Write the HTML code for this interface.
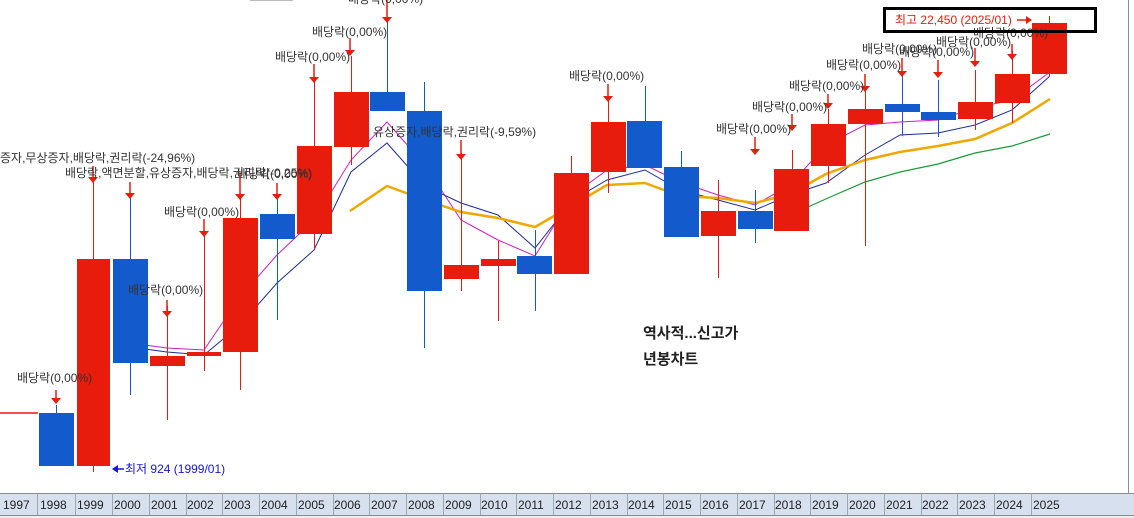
<!DOCTYPE html>
<html><head><meta charset="utf-8"><style>
html,body{margin:0;padding:0;background:#fff;}
svg{display:block;font-family:"Liberation Sans","Noto Sans CJK KR",sans-serif;}
</style></head><body>
<svg width="1134" height="518" viewBox="0 0 1134 518" xmlns="http://www.w3.org/2000/svg">
<rect width="1134" height="518" fill="#fff"/>
<line x1="250" y1="0.5" x2="293" y2="0.5" stroke="#bbb"/>
<line x1="1128.5" y1="0" x2="1128.5" y2="493" stroke="#7a8fb0"/>
<!-- moving averages -->
<polyline fill="none" stroke="#d020c0" stroke-width="1" points="130,343 167,348 204,350 240,297 277,255 314,220 351,160 387,122 425,165 461,220 498,240 535,256 573,195 607,170 645,165 680,182 718,195 755,205 790,185 826,145 865,125 900,122 938,120 975,108 1012,100 1050,72"/>
<polyline fill="none" stroke="#1a2ea0" stroke-width="1" points="130,347 167,352 204,355 240,325 277,283 314,250 351,172 387,143 425,186 461,203 498,215 535,248 573,200 607,180 645,170 680,190 718,200 755,210 790,195 826,183 865,155 900,135 938,133 975,125 1012,110 1050,76"/>
<polyline fill="none" stroke="#f0a800" stroke-width="2.5" points="350,211 387,186 425,200 461,212 498,218 535,227 573,205 607,185 645,183 680,196 718,198 755,203 790,194 826,174 865,160 900,152 938,146 975,139 1012,123 1050,99"/>
<polyline fill="none" stroke="#1a9a3a" stroke-width="1.2" points="808,207 828,198 865,182 900,172 938,164 975,153 1012,146 1050,134"/>
<!-- candles -->
<g stroke-width="1">
<line x1="0" y1="413" x2="38" y2="413" stroke="#e81c0c" stroke-width="1.5"/>
<line x1="56.5" y1="405" x2="56.5" y2="466" stroke="#135bcc"/><rect x="39" y="413" width="35" height="53" fill="#135bcc"/>
<line x1="93.5" y1="180" x2="93.5" y2="472" stroke="#e81c0c"/><rect x="77" y="259" width="33" height="207" fill="#e81c0c"/>
<line x1="130.5" y1="195" x2="130.5" y2="395" stroke="#135bcc"/><rect x="113" y="259" width="35" height="104" fill="#135bcc"/>
<line x1="167.5" y1="306" x2="167.5" y2="420" stroke="#e81c0c"/><rect x="150" y="356" width="35" height="10" fill="#e81c0c"/>
<line x1="204.5" y1="236" x2="204.5" y2="371" stroke="#e81c0c"/><rect x="187" y="352" width="34" height="4" fill="#e81c0c"/>
<line x1="240.5" y1="196" x2="240.5" y2="390" stroke="#e81c0c"/><rect x="223" y="218" width="35" height="134" fill="#e81c0c"/>
<line x1="277.5" y1="199" x2="277.5" y2="320" stroke="#135bcc"/><rect x="260" y="214" width="35" height="25" fill="#135bcc"/>
<line x1="314.5" y1="82" x2="314.5" y2="250" stroke="#e81c0c"/><rect x="297" y="146" width="35" height="88" fill="#e81c0c"/>
<line x1="351.5" y1="56" x2="351.5" y2="165" stroke="#e81c0c"/><rect x="334" y="92" width="35" height="55" fill="#e81c0c"/>
<line x1="387.5" y1="20" x2="387.5" y2="111" stroke="#135bcc"/><rect x="370" y="92" width="35" height="19" fill="#135bcc"/>
<line x1="424.5" y1="82" x2="424.5" y2="348" stroke="#135bcc"/><rect x="407" y="111" width="35" height="180" fill="#135bcc"/>
<line x1="461.5" y1="153" x2="461.5" y2="291" stroke="#e81c0c"/><rect x="444" y="265" width="35" height="14" fill="#e81c0c"/>
<line x1="498.5" y1="241" x2="498.5" y2="321" stroke="#e81c0c"/><rect x="481" y="259" width="35" height="7" fill="#e81c0c"/>
<line x1="535.5" y1="230" x2="535.5" y2="311" stroke="#135bcc"/><rect x="517" y="256" width="35" height="18" fill="#135bcc"/>
<line x1="571.5" y1="156" x2="571.5" y2="274" stroke="#e81c0c"/><rect x="554" y="173" width="35" height="101" fill="#e81c0c"/>
<line x1="608.5" y1="99" x2="608.5" y2="193" stroke="#e81c0c"/><rect x="591" y="122" width="35" height="50" fill="#e81c0c"/>
<line x1="645.5" y1="86" x2="645.5" y2="168" stroke="#135bcc"/><rect x="627" y="121" width="35" height="47" fill="#135bcc"/>
<line x1="681.5" y1="151" x2="681.5" y2="237" stroke="#135bcc"/><rect x="664" y="167" width="35" height="70" fill="#135bcc"/>
<line x1="718.5" y1="180" x2="718.5" y2="278" stroke="#e81c0c"/><rect x="701" y="211" width="35" height="25" fill="#e81c0c"/>
<line x1="755.5" y1="190" x2="755.5" y2="243" stroke="#135bcc"/><rect x="738" y="211" width="35" height="18" fill="#135bcc"/>
<line x1="792.5" y1="150" x2="792.5" y2="231" stroke="#e81c0c"/><rect x="774" y="169" width="35" height="62" fill="#e81c0c"/>
<line x1="828.5" y1="109" x2="828.5" y2="183" stroke="#e81c0c"/><rect x="811" y="124" width="35" height="42" fill="#e81c0c"/>
<line x1="865.5" y1="90" x2="865.5" y2="246" stroke="#e81c0c"/><rect x="848" y="109" width="35" height="15" fill="#e81c0c"/>
<line x1="902.5" y1="76" x2="902.5" y2="136" stroke="#135bcc"/><rect x="885" y="104" width="35" height="8" fill="#135bcc"/>
<line x1="938.5" y1="80" x2="938.5" y2="137" stroke="#135bcc"/><rect x="921" y="112" width="35" height="8" fill="#135bcc"/>
<line x1="975.5" y1="70" x2="975.5" y2="130" stroke="#e81c0c"/><rect x="958" y="102" width="35" height="17" fill="#e81c0c"/>
<line x1="1012.5" y1="51" x2="1012.5" y2="123" stroke="#e81c0c"/><rect x="995" y="74" width="35" height="29" fill="#e81c0c"/>
<line x1="1049.5" y1="16" x2="1049.5" y2="77" stroke="#e81c0c"/><rect x="1032" y="23" width="35" height="51" fill="#e81c0c"/>
</g>
<!-- arrows -->
<g fill="#e81c0c" stroke="#e81c0c" stroke-width="1.5">
<line x1="56" y1="390" x2="56" y2="400"/><polygon points="51,398 61,398 56,404" stroke="none"/>
<line x1="93" y1="166" x2="93" y2="180"/><polygon points="88,177 98,177 93,183" stroke="none"/>
<line x1="130" y1="182" x2="130" y2="196"/><polygon points="125,193 135,193 130,199" stroke="none"/>
<line x1="167" y1="300" x2="167" y2="314"/><polygon points="162,311 172,311 167,317" stroke="none"/>
<line x1="204" y1="219" x2="204" y2="234"/><polygon points="199,231 209,231 204,237" stroke="none"/>
<line x1="240" y1="173" x2="240" y2="197"/><polygon points="235,194 245,194 240,200" stroke="none"/>
<line x1="277" y1="183" x2="277" y2="197"/><polygon points="272,194 282,194 277,200" stroke="none"/>
<line x1="314" y1="64" x2="314" y2="80"/><polygon points="309,77 319,77 314,83" stroke="none"/>
<line x1="350" y1="38" x2="350" y2="53"/><polygon points="345,50 355,50 350,56" stroke="none"/>
<line x1="387" y1="0" x2="387" y2="20"/><polygon points="382,17 392,17 387,23" stroke="none"/>
<line x1="461" y1="140" x2="461" y2="157"/><polygon points="456,154 466,154 461,160" stroke="none"/>
<line x1="608" y1="84" x2="608" y2="99"/><polygon points="603,96 613,96 608,102" stroke="none"/>
<line x1="755" y1="137" x2="755" y2="152"/><polygon points="750,149 760,149 755,155" stroke="none"/>
<line x1="792" y1="114" x2="792" y2="128"/><polygon points="787,125 797,125 792,131" stroke="none"/>
<line x1="828" y1="94" x2="828" y2="106"/><polygon points="823,103 833,103 828,109" stroke="none"/>
<line x1="865" y1="74" x2="865" y2="89"/><polygon points="860,86 870,86 865,92" stroke="none"/>
<line x1="902" y1="58" x2="902" y2="74"/><polygon points="897,71 907,71 902,77" stroke="none"/>
<line x1="938" y1="60" x2="938" y2="75"/><polygon points="933,72 943,72 938,78" stroke="none"/>
<line x1="975" y1="48" x2="975" y2="64"/><polygon points="970,61 980,61 975,67" stroke="none"/>
<line x1="1012" y1="44" x2="1012" y2="57"/><polygon points="1007,54 1017,54 1012,60" stroke="none"/>
</g>
<!-- labels -->
<g font-size="12" fill="#333">
<text x="17" y="382">배당락(0,00%)</text>
<text x="0" y="162">증자,무상증자,배당락,권리락(-24,96%)</text>
<text x="65" y="177">배당락,액면분할,유상증자,배당락,권리락(-0,25%)</text>
<text x="237" y="178">배당락(0,00%)</text>
<text x="164" y="216">배당락(0,00%)</text>
<text x="128" y="294">배당락(0,00%)</text>
<text x="275" y="61">배당락(0,00%)</text>
<text x="312" y="36">배당락(0,00%)</text>
<text x="348" y="3">배당락(0,00%)</text>
<text x="373" y="136">유상증자,배당락,권리락(-9,59%)</text>
<text x="569" y="80">배당락(0,00%)</text>
<text x="716" y="133">배당락(0,00%)</text>
<text x="752" y="111">배당락(0,00%)</text>
<text x="789" y="90">배당락(0,00%)</text>
<text x="826" y="69">배당락(0,00%)</text>
<text x="862" y="53">배당락(0,00%)</text>
<text x="899" y="56">배당락(0,00%)</text>
<text x="936" y="46">배당락(0,00%)</text>
<text x="973" y="37">배당락(0,00%)</text>
</g>
<!-- high box -->
<rect x="884.5" y="8.5" width="211" height="23" fill="none" stroke="#000" stroke-width="3"/>
<text x="895" y="24" font-size="12" fill="#e81c0c">최고 22,450 (2025/01)</text>
<line x1="1017" y1="20" x2="1028" y2="20" stroke="#e81c0c" stroke-width="1.5"/><polygon points="1026,16 1032,20 1026,24" fill="#e81c0c"/>
<!-- low -->
<polygon points="112,469 118,465 118,473" fill="#1414e0"/><line x1="116" y1="469" x2="124" y2="469" stroke="#1414e0" stroke-width="1.5"/>
<text x="125" y="473" font-size="12" fill="#1414e0">최저 924 (1999/01)</text>
<text x="643" y="338" font-size="15" font-weight="bold" fill="#222">역사적...신고가</text>
<text x="643" y="364" font-size="15" font-weight="bold" fill="#222">년봉차트</text>
<!-- x axis -->
<rect x="0" y="493" width="1134" height="23" fill="#d6e0ee"/>
<line x1="0" y1="493.5" x2="1134" y2="493.5" stroke="#8a8a8a"/>
<line x1="0" y1="515.5" x2="1134" y2="515.5" stroke="#8a8a8a"/>
<rect x="0" y="516" width="1134" height="2" fill="#eee"/>
<g stroke="#9aa" stroke-width="1">
<line x1="37.5" y1="493" x2="37.5" y2="515"/><line x1="75.5" y1="493" x2="75.5" y2="515"/><line x1="112.5" y1="493" x2="112.5" y2="515"/><line x1="149.5" y1="493" x2="149.5" y2="515"/><line x1="186.5" y1="493" x2="186.5" y2="515"/><line x1="222.5" y1="493" x2="222.5" y2="515"/><line x1="259.5" y1="493" x2="259.5" y2="515"/><line x1="296.5" y1="493" x2="296.5" y2="515"/><line x1="333.5" y1="493" x2="333.5" y2="515"/><line x1="369.5" y1="493" x2="369.5" y2="515"/><line x1="406.5" y1="493" x2="406.5" y2="515"/><line x1="443.5" y1="493" x2="443.5" y2="515"/><line x1="480.5" y1="493" x2="480.5" y2="515"/><line x1="516.5" y1="493" x2="516.5" y2="515"/><line x1="553.5" y1="493" x2="553.5" y2="515"/><line x1="590.5" y1="493" x2="590.5" y2="515"/><line x1="627.5" y1="493" x2="627.5" y2="515"/><line x1="663.5" y1="493" x2="663.5" y2="515"/><line x1="700.5" y1="493" x2="700.5" y2="515"/><line x1="737.5" y1="493" x2="737.5" y2="515"/><line x1="774.5" y1="493" x2="774.5" y2="515"/><line x1="810.5" y1="493" x2="810.5" y2="515"/><line x1="847.5" y1="493" x2="847.5" y2="515"/><line x1="884.5" y1="493" x2="884.5" y2="515"/><line x1="921.5" y1="493" x2="921.5" y2="515"/><line x1="957.5" y1="493" x2="957.5" y2="515"/><line x1="994.5" y1="493" x2="994.5" y2="515"/><line x1="1031.5" y1="493" x2="1031.5" y2="515"/>
</g>
<g font-size="12" fill="#222">
<text x="3" y="509">1997</text><text x="40" y="509">1998</text><text x="77" y="509">1999</text><text x="114" y="509">2000</text><text x="151" y="509">2001</text><text x="187" y="509">2002</text><text x="224" y="509">2003</text><text x="261" y="509">2004</text><text x="298" y="509">2005</text><text x="334" y="509">2006</text><text x="371" y="509">2007</text><text x="408" y="509">2008</text><text x="445" y="509">2009</text><text x="481" y="509">2010</text><text x="518" y="509">2011</text><text x="555" y="509">2012</text><text x="592" y="509">2013</text><text x="628" y="509">2014</text><text x="665" y="509">2015</text><text x="702" y="509">2016</text><text x="739" y="509">2017</text><text x="775" y="509">2018</text><text x="812" y="509">2019</text><text x="849" y="509">2020</text><text x="886" y="509">2021</text><text x="922" y="509">2022</text><text x="959" y="509">2023</text><text x="996" y="509">2024</text><text x="1033" y="509">2025</text>
</g>
</svg>
</body></html>
